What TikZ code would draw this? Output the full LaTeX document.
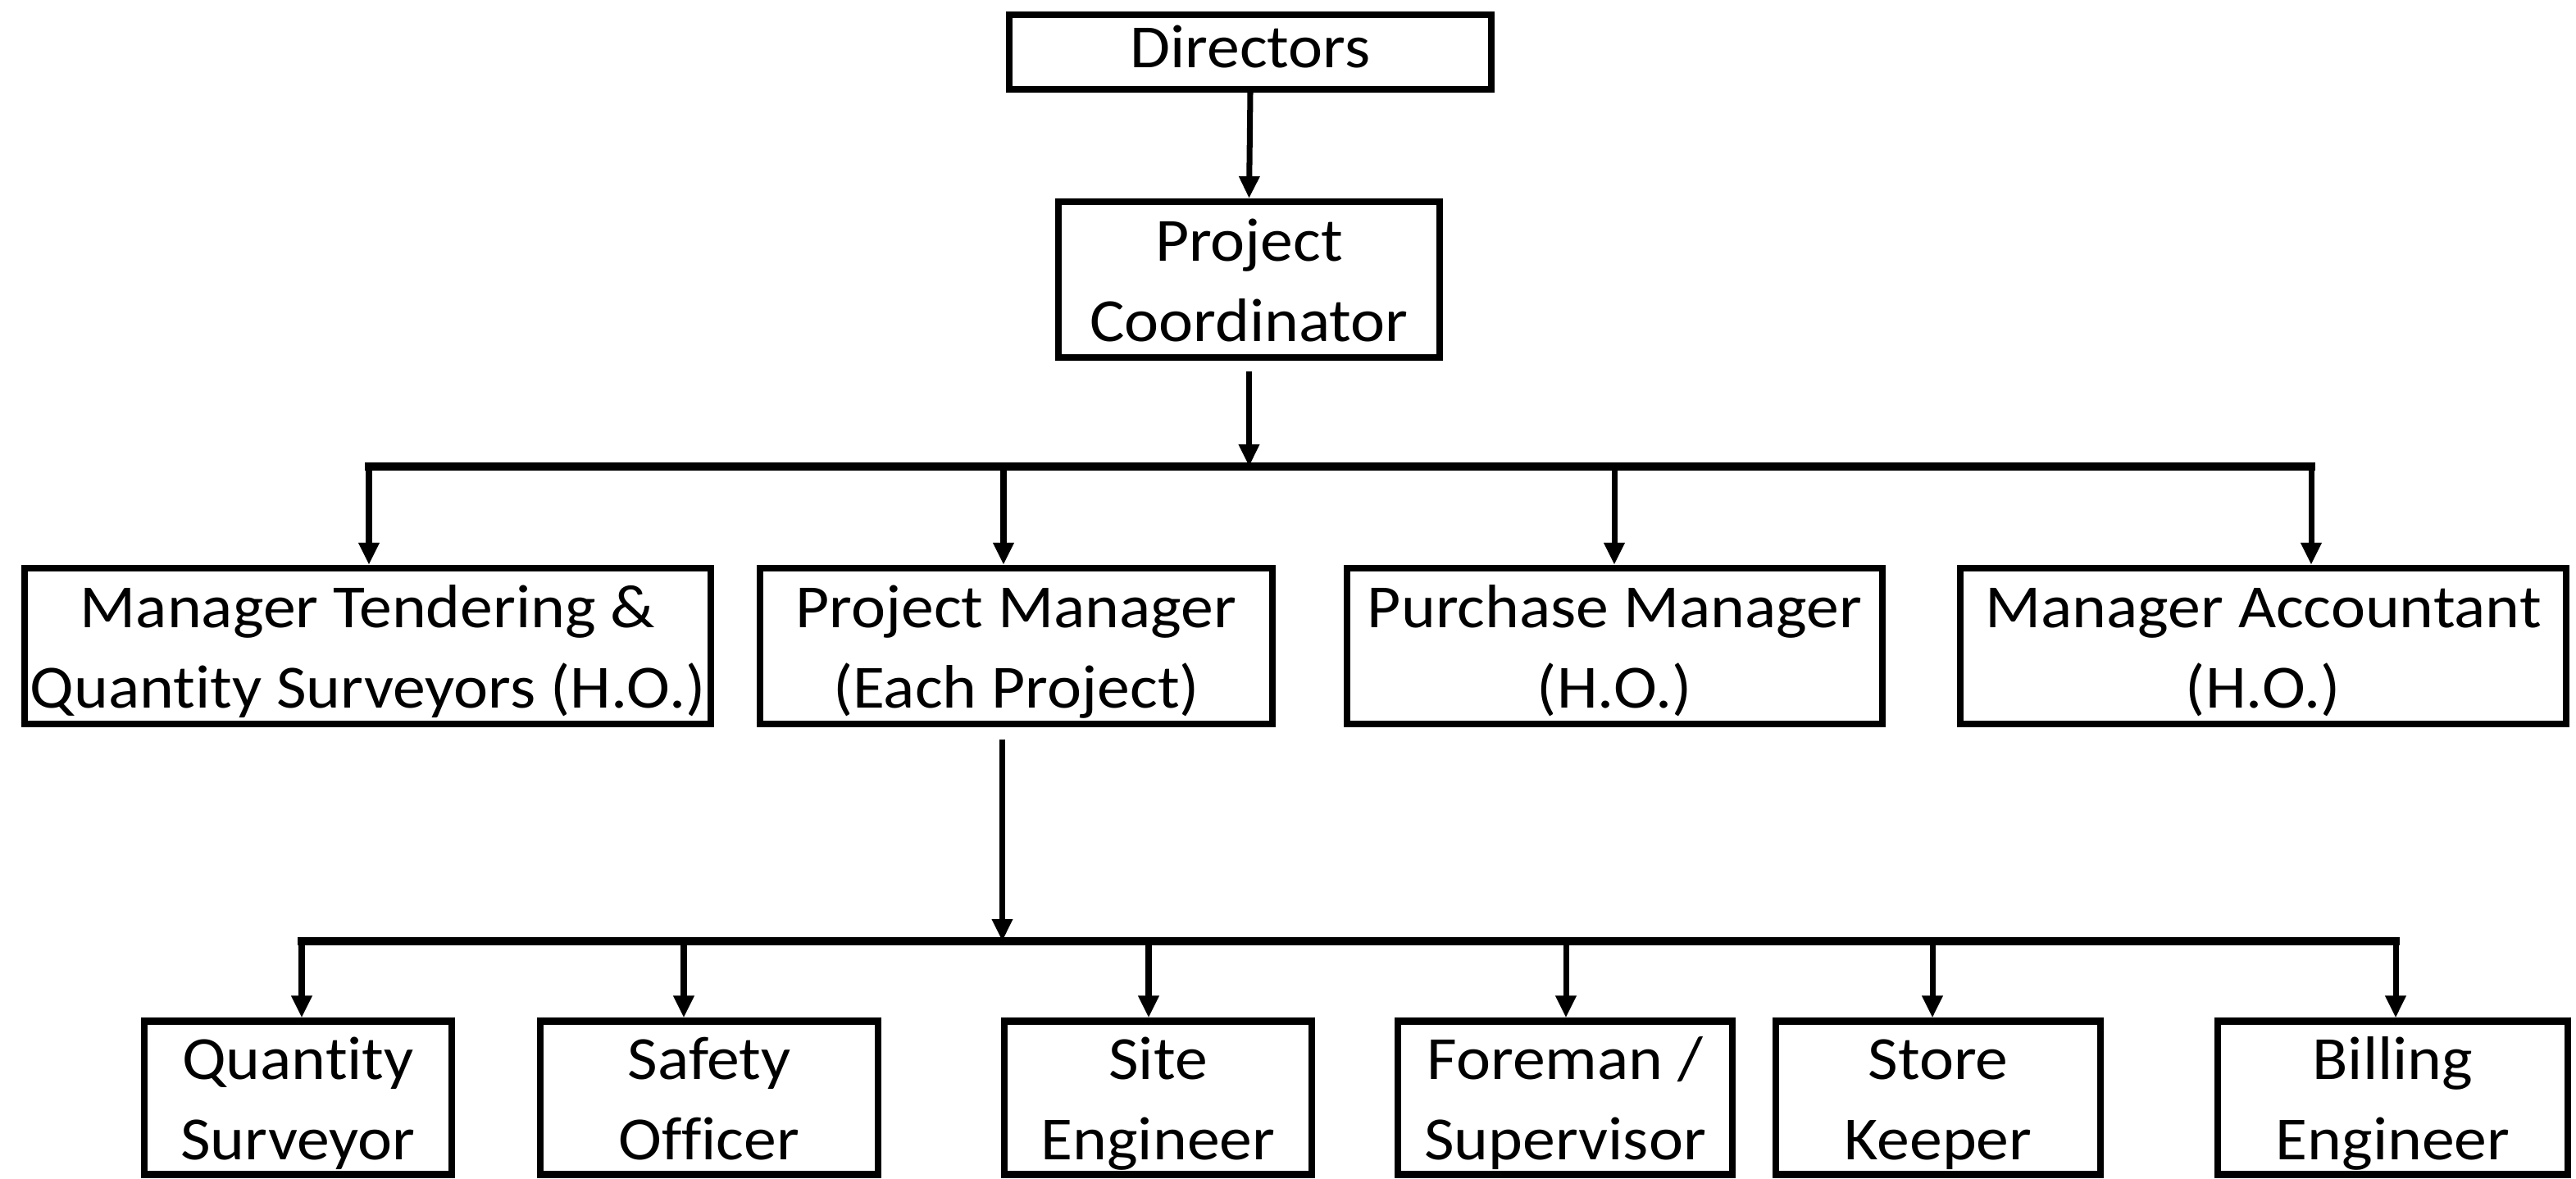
\documentclass[tikz,border=0pt]{standalone}
\usepackage{fontspec}
\setmainfont{Carlito}[Ligatures=NoCommon, FakeStretch=1.065]
\usepackage{tikz}
\usetikzlibrary{arrows.meta}

% two lines of text, placed the same way in every box
\newcommand{\twolines}[2]{\rule{0pt}{20.3pt}#1\\#2\rule[-5pt]{0pt}{5pt}}

\begin{document}
\begin{tikzpicture}[
    box/.style={draw, line width=2.3pt, inner sep=0pt, align=center,
        font=\fontsize{21.3}{27.9}\selectfont},
    arr/.style={-{Triangle[length=0.27cm,width=0.24cm]}, line width=2pt},
    bus/.style={line width=2.6pt, line cap=rect}
]
\useasboundingbox (0,0) rectangle (31.42,-14.38);
% top of the chart
\node[box, minimum width=5.88cm, minimum height=0.91cm] (dir) at (15.25,-0.635) {\rule[-4.5pt]{0pt}{20pt}Directors};
\node[box, minimum width=4.65cm, minimum height=1.90cm] (coord) at (15.235,-3.41) {\twolines{Project}{Coordinator}};
\draw[arr] (dir.south) -- (coord.north);
% head office level
\node[box, minimum width=8.37cm, minimum height=1.90cm] (tender) at (4.485,-7.88) {\twolines{Manager Tendering \&}{Quantity Surveyors (H.O.)}};
\node[box, minimum width=6.25cm, minimum height=1.90cm] (pm) at (12.395,-7.88) {\twolines{Project Manager}{(Each Project)}};
\node[box, minimum width=6.53cm, minimum height=1.90cm] (purch) at (19.695,-7.88) {\twolines{Purchase Manager}{(H.O.)}};
\node[box, minimum width=7.39cm, minimum height=1.90cm] (acct) at (27.605,-7.88) {\twolines{Manager Accountant}{(H.O.)}};
\coordinate (a1) at (4.50,-5.69);
\coordinate (a2) at (12.24,-5.69);
\coordinate (a3) at (19.69,-5.69);
\coordinate (a4) at (28.19,-5.69);
\draw[arr, shorten <=0.13cm] (coord.south) -- (coord.south |- a1);
\draw[bus] (a1) -- (a4);
\foreach \c/\n in {a1/tender, a2/pm, a3/purch, a4/acct}
    \draw[arr] (\c) -- (\c |- \n.north);
% site level
\node[box, minimum width=3.75cm, minimum height=1.86cm] (qs) at (3.635,-13.39) {\twolines{Quantity}{Surveyor}};
\node[box, minimum width=4.12cm, minimum height=1.86cm] (safety) at (8.65,-13.39) {\twolines{Safety}{Officer}};
\node[box, minimum width=3.75cm, minimum height=1.86cm] (site) at (14.125,-13.39) {\twolines{Site}{Engineer}};
\node[box, minimum width=4.08cm, minimum height=1.86cm] (foreman) at (19.09,-13.39) {\twolines{Foreman /}{Supervisor}};
\node[box, minimum width=3.96cm, minimum height=1.86cm] (store) at (23.64,-13.39) {\twolines{Store}{Keeper}};
\node[box, minimum width=4.27cm, minimum height=1.86cm] (bill) at (29.185,-13.39) {\twolines{Billing}{Engineer}};
\coordinate (b1) at (3.68,-11.48);
\coordinate (b2) at (8.34,-11.48);
\coordinate (b3) at (14.01,-11.48);
\coordinate (b4) at (19.10,-11.48);
\coordinate (b5) at (23.57,-11.48);
\coordinate (b6) at (29.22,-11.48);
\draw[arr, shorten <=0.15cm] ([xshift=-0.17cm]pm.south) -- ([xshift=-0.17cm]pm.south |- b1);
\draw[bus] (b1) -- (b6);
\foreach \c/\n in {b1/qs, b2/safety, b3/site, b4/foreman, b5/store, b6/bill}
    \draw[arr] (\c) -- (\c |- \n.north);
\end{tikzpicture}
\end{document}
